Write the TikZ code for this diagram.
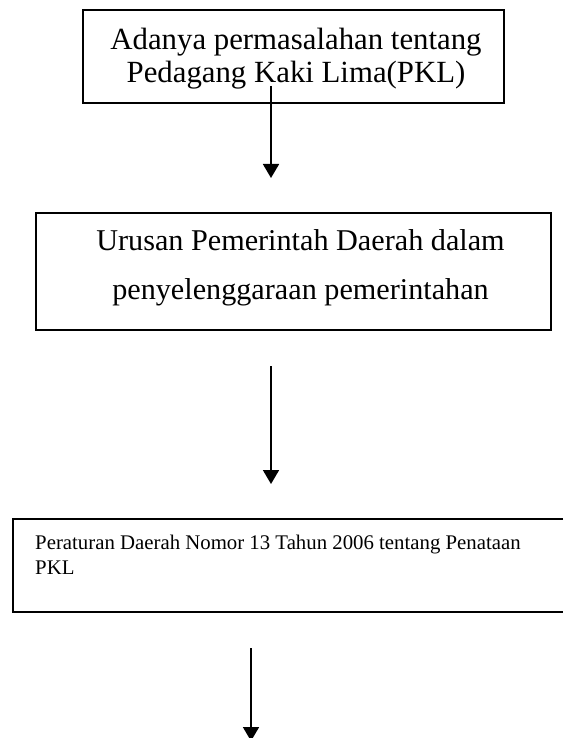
\documentclass[tikz,border=0pt]{standalone}
\usepackage{fontspec}
\setmainfont{Liberation Serif}
\usetikzlibrary{arrows.meta}
\begin{document}
\begin{tikzpicture}[x=1pt,y=-1pt,
  boxline/.style={line width=1.8pt},
  conn/.style={line width=1.8pt,-{Triangle[width=16pt,length=14pt]}},
  bigtext/.style={align=center,inner sep=0pt}]
\useasboundingbox (0,0) rectangle (563,738);
% box 1
\node[draw,boxline,minimum width=421pt,minimum height=93pt,inner sep=0pt] (b1) at (293.5,56.5) {};
\node[bigtext,font=\fontsize{30.8}{34}\selectfont,anchor=base] (t1a) at (296,50) {Adanya permasalahan tentang};
\node[bigtext,font=\fontsize{30.8}{34}\selectfont,anchor=base] (t1b) at (296,83) {Pedagang Kaki Lima(PKL)};
% box 2
\node[draw,boxline,minimum width=515pt,minimum height=117pt,inner sep=0pt] (b2) at (293.5,271.5) {};
\node[bigtext,font=\fontsize{30.2}{34}\selectfont,anchor=base] (t2a) at (300.5,250) {Urusan Pemerintah Daerah dalam};
\node[bigtext,font=\fontsize{30.2}{34}\selectfont,anchor=base] (t2b) at (300.5,299) {penyelenggaraan pemerintahan};
% box 3 (open at the right)
\coordinate (b3nw) at (13,519);
\coordinate (b3ne) at (563,519);
\coordinate (b3sw) at (13,612);
\coordinate (b3se) at (563,612);
\draw[boxline] (b3ne) -- (b3nw) -- (b3sw) -- (b3se);
\node[font=\fontsize{20.8}{25}\selectfont,anchor=base west,inner sep=0pt] (t3a) at (35,549) {Peraturan Daerah Nomor 13 Tahun 2006 tentang Penataan};
\node[font=\fontsize{20.8}{25}\selectfont,anchor=base west,inner sep=0pt] (t3b) at (35,574) {PKL};
% arrows
\coordinate (a1s) at (271,86);
\coordinate (a1e) at (271,178);
\draw[conn] (a1s) -- (a1e);
\coordinate (a2s) at (271,366);
\coordinate (a2e) at (271,484);
\draw[conn] (a2s) -- (a2e);
\coordinate (a3s) at (251,648);
\coordinate (a3e) at (251,741);
\draw[conn] (a3s) -- (a3e);
\end{tikzpicture}
\end{document}
